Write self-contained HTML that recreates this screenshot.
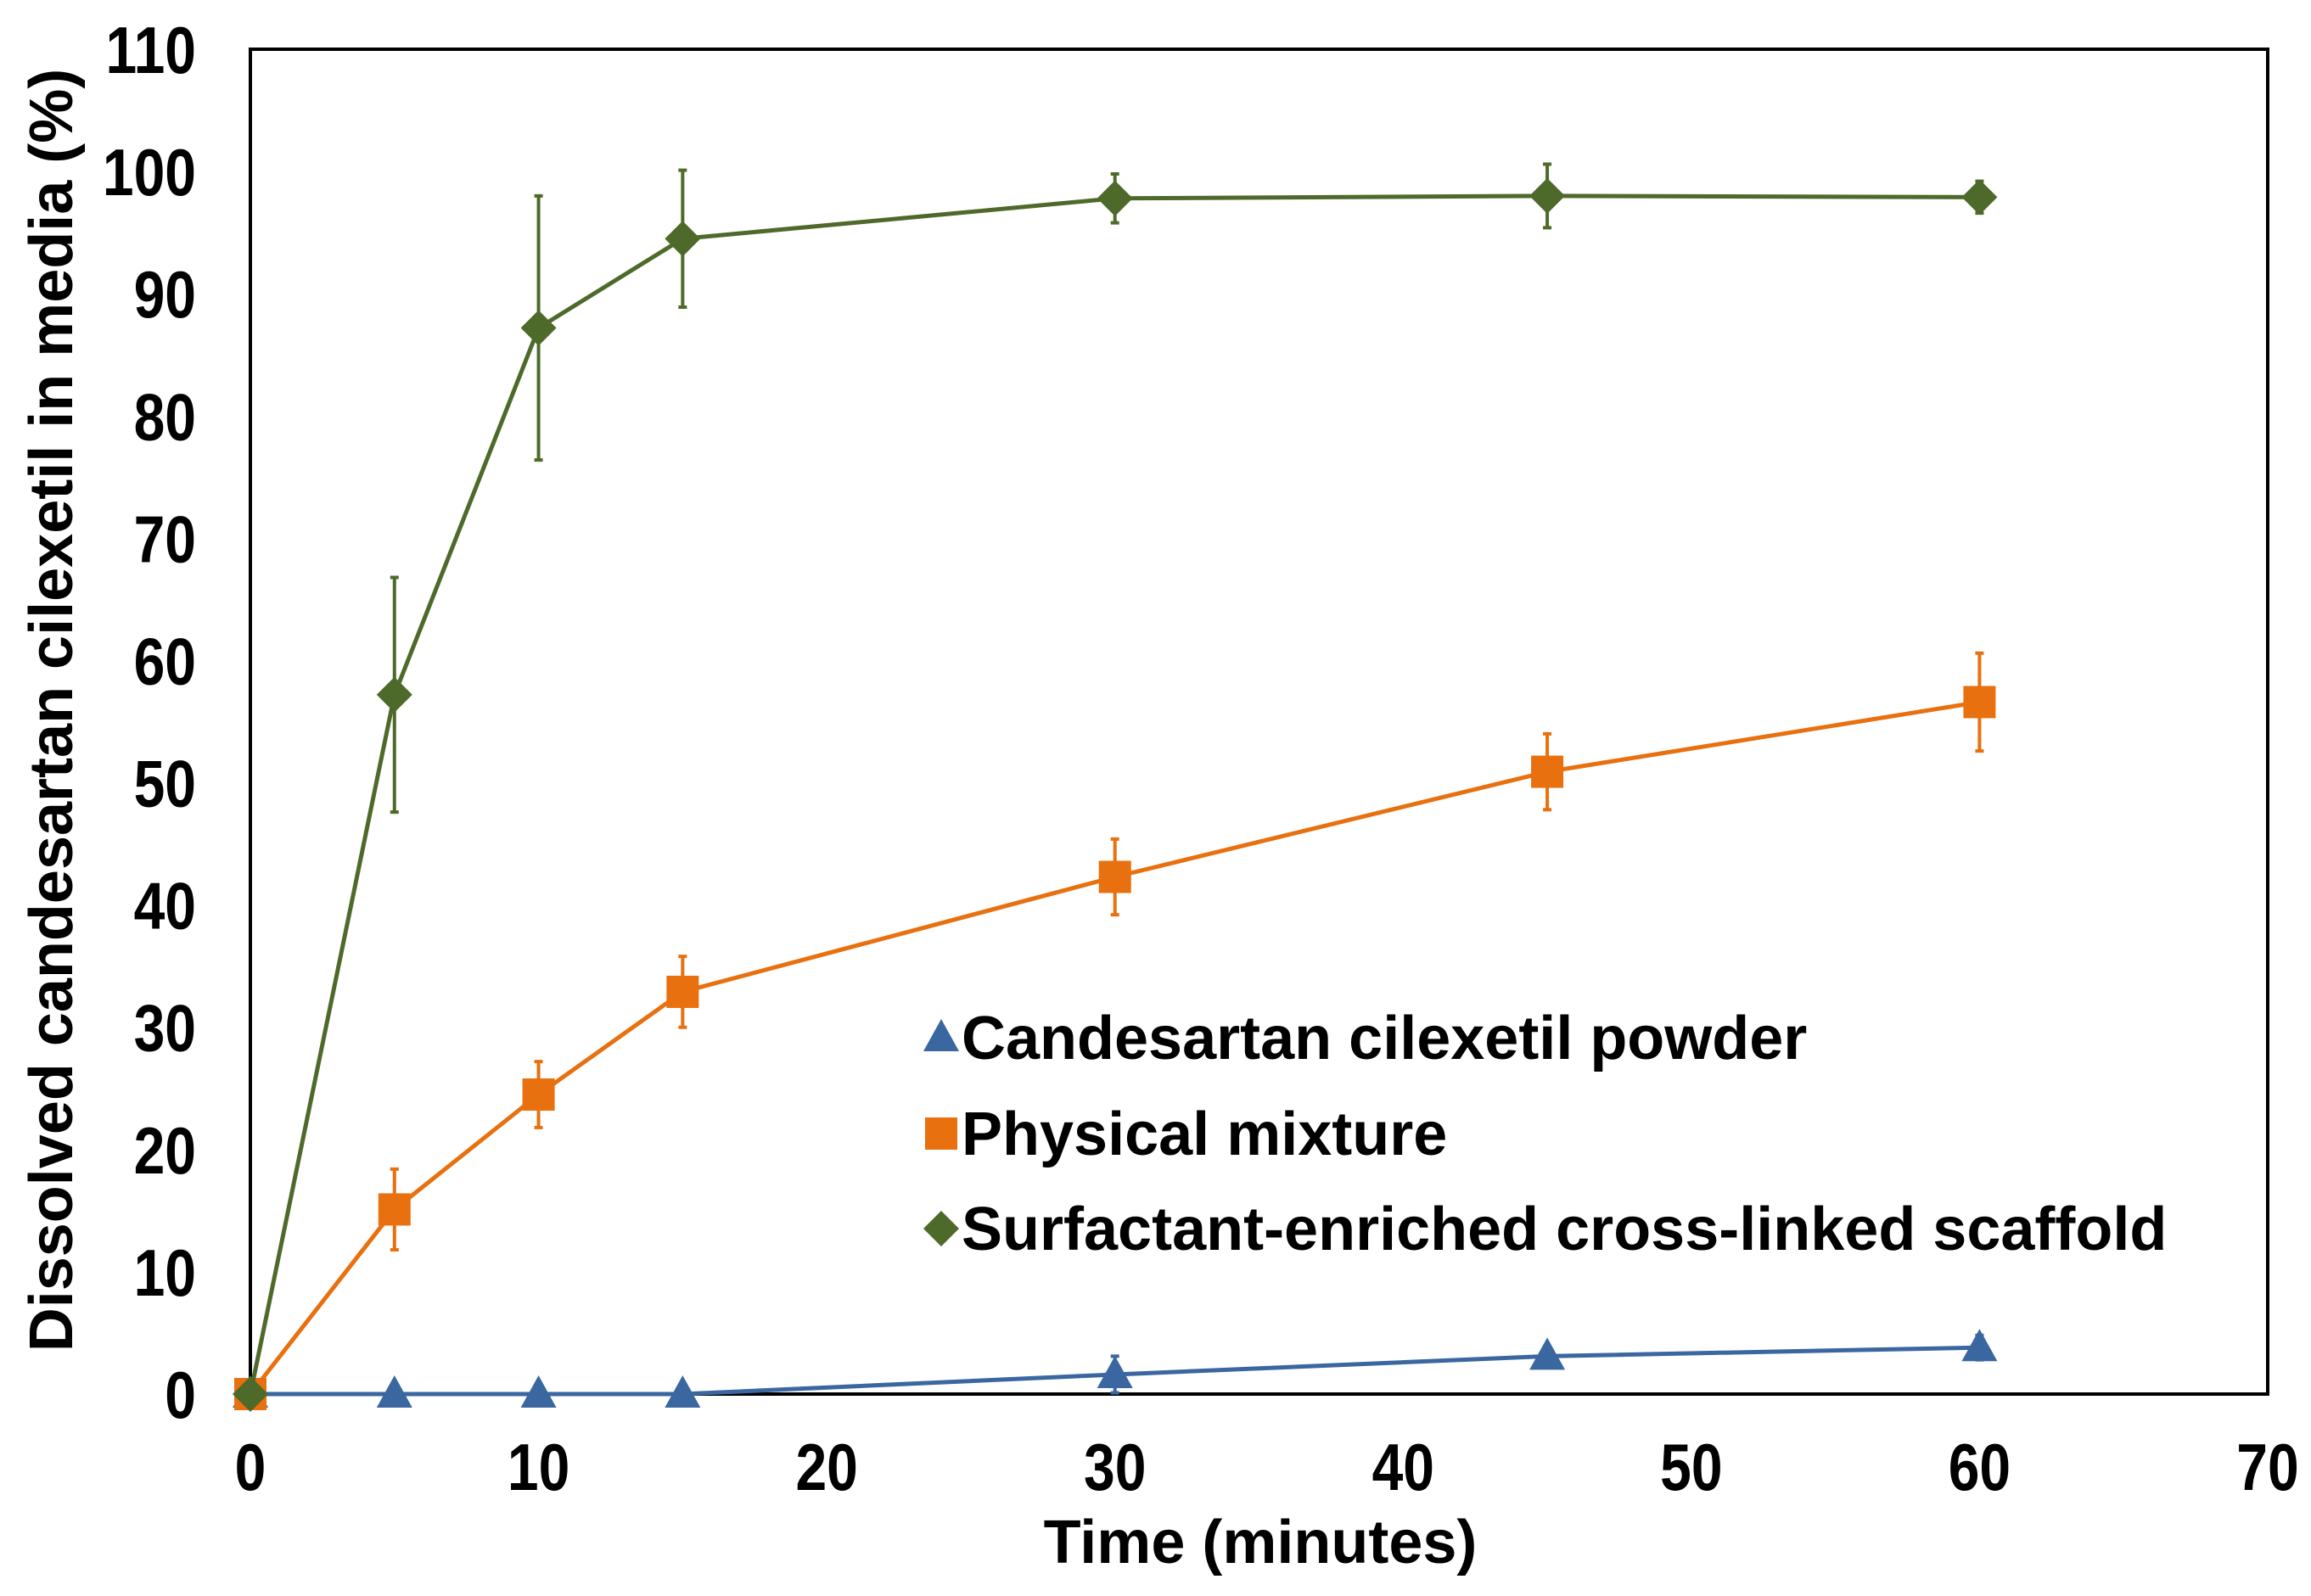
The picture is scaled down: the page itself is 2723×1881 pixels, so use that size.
<!DOCTYPE html>
<html><head><meta charset="utf-8"><style>
html,body{margin:0;padding:0;background:#fff;}
svg{display:block;}
text{font-family:"Liberation Sans",Arial,sans-serif;font-weight:bold;fill:#000;}
</style></head><body>
<svg id="chart" width="2723" height="1881" viewBox="0 0 2723 1881" xmlns="http://www.w3.org/2000/svg">
<g id="plot"></g>
</svg>
<script>
const times = [0, 5, 10, 15, 30, 45, 60];
const powderVals = [0, 0, 0, 0, 1.6, 3.1, 3.8];
const powderErr = [0, 0, 0, 0, 1.5, 0.6, 1.0];
const mixtureVals = [0, 15.1, 24.5, 32.9, 42.3, 50.9, 56.6];
const mixtureErr = [0, 3.3, 2.7, 2.9, 3.1, 3.1, 4.0];
const scaffoldVals = [0, 57.2, 87.2, 94.5, 97.8, 98.0, 97.9];
const scaffoldErr = [0, 9.6, 10.8, 5.6, 2.0, 2.6, 1.3];
const xTicks = [0, 10, 20, 30, 40, 50, 60, 70];
const yTicks = [0, 10, 20, 30, 40, 50, 60, 70, 80, 90, 100, 110];
const legendLabels = ["Candesartan cilexetil powder", "Physical mixture", "Surfactant-enriched cross-linked scaffold"];

const L = 295, R = 2672, T = 58, B = 1643;
const xs = v => L + (v - 0) / 70 * (R - L);
const ys = v => B - v / 110 * (B - T);
const NS = "http://www.w3.org/2000/svg";
const g = document.getElementById('plot');
function mk(tag, attrs, parent) {
  const e = document.createElementNS(NS, tag);
  for (const k in attrs) e.setAttribute(k, attrs[k]);
  (parent || g).appendChild(e);
  return e;
}
let fr = mk('rect', {x: L, y: T, width: R - L, height: B - T, fill: 'none', stroke: '#000', 'stroke-width': 4});


yTicks.forEach(v => {
  const t = mk('text', {x: 0, y: 0, 'font-size': 66, 'text-anchor': 'end', transform: `translate(231,${ys(v) + 28}) scale(1,1.18)`});
  t.textContent = v;
  
  
});
xTicks.forEach(v => {
  const t = mk('text', {x: 0, y: 0, 'font-size': 66, 'text-anchor': 'middle', transform: `translate(${xs(v)},1756) scale(1,1.18)`});
  t.textContent = v;
  
  
});
let xt = mk('text', {x: 1485, y: 1842, 'font-size': 72, 'text-anchor': 'middle'});
xt.textContent = 'Time (minutes)';


let yt = mk('text', {x: 0, y: 0, 'font-size': 72, 'text-anchor': 'middle', transform: 'translate(85,837) rotate(-90)'});
yt.textContent = 'Dissolved candesartan cilexetil in media (%)';



function marker(type, cx, cy, color, parent) {
  let e;
  if (type === 'tri') e = mk('polygon', {points: `${cx},${cy - 22} ${cx - 21},${cy + 16} ${cx + 21},${cy + 16}`, fill: color}, parent);
  else if (type === 'sq') e = mk('rect', {x: cx - 19, y: cy - 19, width: 38, height: 38, fill: color}, parent);
  else e = mk('polygon', {points: `${cx},${cy - 21} ${cx + 21},${cy} ${cx},${cy + 21} ${cx - 21},${cy}`, fill: color}, parent);
  return e;
}
function series(name, vals, errs, color, type) {
  const sg = mk('g', {});
  
  
  vals.forEach((v, i) => {
    if (errs[i] > 0) {
      const x = xs(times[i]);
      const eb = mk('path', {d: `M${x},${ys(v - errs[i])}V${ys(v + errs[i])}M${x - 5},${ys(v - errs[i])}h10M${x - 5},${ys(v + errs[i])}h10`, stroke: color, 'stroke-width': 4, fill: 'none'}, sg);
      
      
    }
  });
  const ln = mk('polyline', {points: vals.map((v, i) => xs(times[i]) + ',' + ys(v)).join(' '), fill: 'none', stroke: color, 'stroke-width': 5}, sg);
  
  
  vals.forEach((v, i) => {
    const m = marker(type, xs(times[i]), ys(v), color, sg);
    
    
  });
}
series('powder', powderVals, powderErr, '#3a67a0', 'tri');
series('mixture', mixtureVals, mixtureErr, '#e8700f', 'sq');
series('scaffold', scaffoldVals, scaffoldErr, '#4e6a2a', 'dia');

const lg = mk('g', {});


const lcol = ['#3a67a0', '#e8700f', '#4e6a2a'], ltype = ['tri', 'sq', 'dia'], lys = [1223, 1336, 1448];
legendLabels.forEach((lab, i) => {
  const m = marker(ltype[i], 1109, lys[i], lcol[i], lg);
  
  
  const t = mk('text', {x: 1133, y: lys[i] + 25, 'font-size': 72}, lg);
  t.textContent = lab;
  
  
});
</script>
</body></html>
